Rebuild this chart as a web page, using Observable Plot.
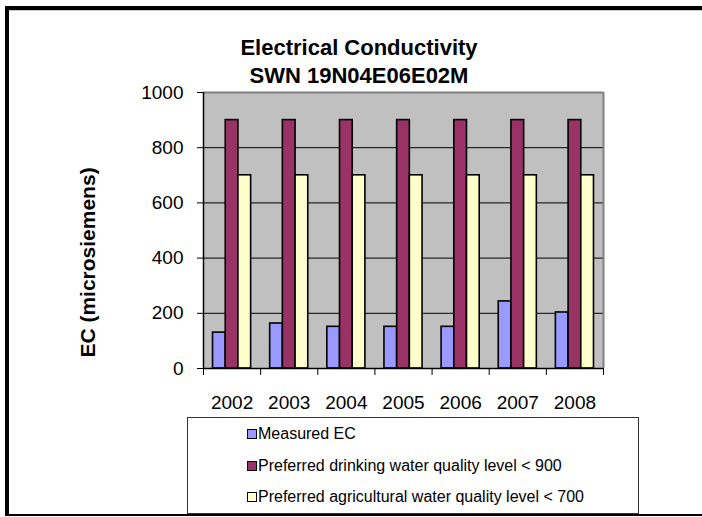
<!DOCTYPE html>
<html>
<head>
<meta charset="utf-8">
<script src="https://cdn.jsdelivr.net/npm/d3@7"></script>
<script src="https://cdn.jsdelivr.net/npm/@observablehq/plot@0.6"></script>
<style>
  body { margin: 0; background: #fff; font-family: "Liberation Sans", Arial, sans-serif; }
  #page { position: relative; width: 702px; height: 517px; overflow: hidden; background: #fff; }
  .edge { position: absolute; background: #000; }
  #edge-top { left: 5px; top: 6px; width: 697px; height: 4px; }
  #edge-top-shade { position: absolute; left: 9px; top: 10px; width: 693px; height: 1px; background: #c8c8c8; }
  #edge-left { left: 5px; top: 6px; width: 4px; height: 510px; }
  #edge-bottom { left: 5px; top: 514px; width: 697px; height: 2px; }
  #title { position: absolute; left: 209px; width: 300px; top: 34px; text-align: center;
           font-weight: bold; font-size: 22px; line-height: 28px; color: #000; }
  #chart { position: absolute; left: 0; top: 0; }
  #legend { position: absolute; left: 187px; top: 417px; width: 450px; height: 95px;
            border: 1px solid #333; background: #fff; }
  .item { position: absolute; left: 59px; height: 20px; display: flex; align-items: center;
          font-size: 16px; color: #000; white-space: nowrap; }
  .swatch { width: 8px; height: 8px; border: 1.5px solid #000; margin-right: 1px; }
</style>
</head>
<body>
<div id="page">
  <div id="edge-top" class="edge"></div>
  <div id="edge-top-shade"></div>
  <div id="edge-left" class="edge"></div>
  <div id="edge-bottom" class="edge"></div>
  <div id="title">Electrical Conductivity<br>SWN 19N04E06E02M</div>
  <div id="chart"></div>
  <div id="legend"></div>
</div>
<script>
// Yearly conductivity readings and the two guideline levels
const years = [2002, 2003, 2004, 2005, 2006, 2007, 2008];
const measuredEC = [130, 163, 151, 151, 151, 243, 203];
const drinkingLevel = [900, 900, 900, 900, 900, 900, 900];
const agriculturalLevel = [700, 700, 700, 700, 700, 700, 700];

const seriesNames = [
  "Measured EC",
  "Preferred drinking water quality level < 900",
  "Preferred agricultural water quality level < 700"
];
const seriesColors = ["#9999FF", "#993366", "#FFFFCC"];
const yTicks = [0, 200, 400, 600, 800, 1000];
const yLabel = "EC (microsiemens)";

// One row per bar: year, series index, value
const seriesValues = [measuredEC, drinkingLevel, agriculturalLevel];
const rows = [];
years.forEach((year, i) => {
  seriesValues.forEach((vals, k) => {
    rows.push({year, k, name: seriesNames[k], value: vals[i]});
  });
});

// Each year occupies one unit on x; the three bars fill its middle two thirds
const barWidth = 2 / 9;
const groupStart = d => d.year - 1 / 3 + d.k * barWidth;
const boundaries = [years[0] - 0.5, ...years.map(y => y + 0.5)];
const xMin = years[0] - 0.5;
const xMax = years[years.length - 1] + 0.5;

const chart = Plot.plot({
  width: 702,
  height: 517,
  marginLeft: 203,
  marginRight: 99,
  marginTop: 92,
  marginBottom: 149,
  style: {fontFamily: '"Liberation Sans", Arial, sans-serif', background: "transparent", color: "#000"},
  x: {domain: [xMin, xMax]},
  y: {domain: [0, 1000]},
  color: {domain: seriesNames, range: seriesColors},
  marks: [
    Plot.frame({fill: "#C0C0C0", stroke: null}),
    Plot.ruleY(yTicks.filter(v => v > 0 && v < 1000), {stroke: "#000", strokeWidth: 1}),
    Plot.ruleY([1000], {stroke: "#808080", strokeWidth: 2}),
    Plot.ruleX([xMax], {stroke: "#808080", strokeWidth: 2}),
    Plot.rectY(rows, {
      x1: groupStart,
      x2: d => groupStart(d) + barWidth,
      y: "value",
      fill: "name",
      stroke: "#000",
      strokeWidth: 1.6
    }),
    Plot.axisY({ticks: yTicks, tickSize: 6, tickPadding: 14, fontSize: 19, tickFormat: d => String(d), label: null}),
    Plot.axisX({ticks: boundaries, tickSize: 7, tickFormat: () => "", label: null}),
    Plot.axisX({ticks: years, tickSize: 0, tickPadding: 27, fontSize: 19, tickFormat: d => String(d), label: null}),
    Plot.ruleX([xMin], {stroke: "#000", strokeWidth: 1.5}),
    Plot.ruleY([0], {stroke: "#000", strokeWidth: 1.5}),
    Plot.text([yLabel], {
      text: d => d,
      frameAnchor: "left",
      textAnchor: "middle",
      rotate: -90,
      dx: -115,
      dy: 32,
      fontSize: 21,
      fontWeight: "bold",
      fill: "#000"
    })
  ]
});
document.getElementById("chart").appendChild(chart);

// Legend rows
const legend = document.getElementById("legend");
const rowTops = [6, 38, 69];
seriesNames.forEach((name, k) => {
  const item = document.createElement("div");
  item.className = "item";
  item.style.top = rowTops[k] + "px";
  const sw = document.createElement("span");
  sw.className = "swatch";
  sw.style.background = seriesColors[k];
  const label = document.createElement("span");
  label.textContent = name;
  item.appendChild(sw);
  item.appendChild(label);
  legend.appendChild(item);
});
</script>
</body>
</html>
